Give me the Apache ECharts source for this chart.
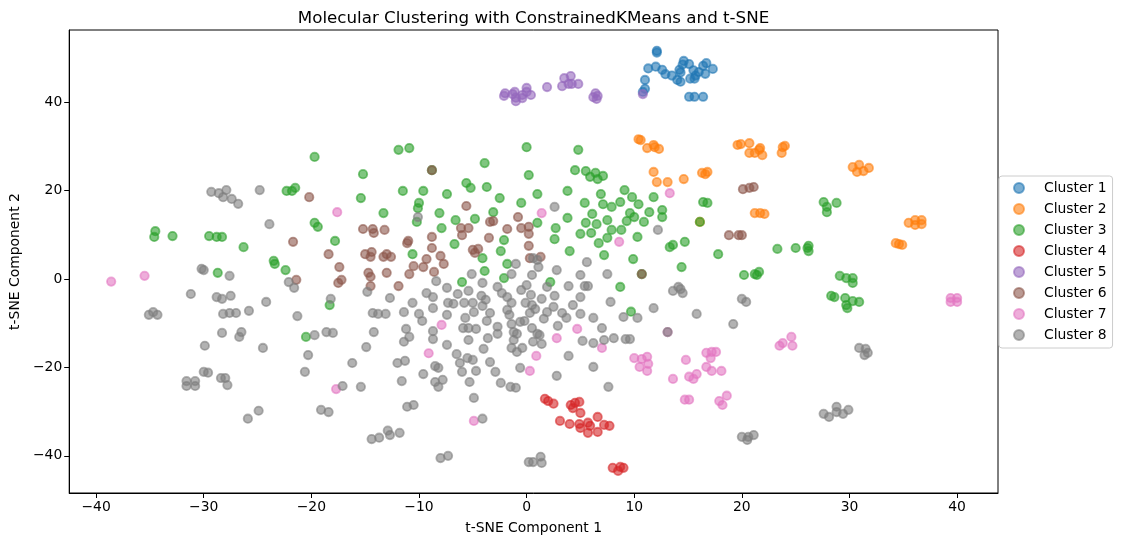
<!DOCTYPE html>
<html>
<head>
<meta charset="utf-8">
<script src="https://cdn.jsdelivr.net/npm/echarts@6/dist/echarts.min.js"></script>
<style>
html,body{margin:0;padding:0;background:#fff;}
#chart{width:1121px;height:545px;}
</style>
</head>
<body>
<div id="chart"></div>
<script>
const clusterNames = ['Cluster 1','Cluster 2','Cluster 3','Cluster 4','Cluster 5','Cluster 6','Cluster 7','Cluster 8'];
const clusterColors = ['31,119,180','255,127,14','44,160,44','214,39,40','148,103,189','140,86,75','227,119,194','127,127,127'];
const xTicks = [-40,-30,-20,-10,0,10,20,30,40];
const yTicks = [-40,-20,0,20,40];

const cluster1 = [[12.1,51.6],[12.1,51.2],[11.3,47.6],[12.0,48.0],[12.6,47.3],[12.9,46.3],[13.5,46.0],[14.2,47.3],[14.5,48.5],[14.6,49.3],[14.3,46.7],[15.1,48.6],[15.5,47.2],[15.7,46.0],[15.6,45.3],[16.0,46.8],[16.6,46.4],[17.3,47.5],[16.7,48.8],[16.4,48.2],[15.1,41.2],[15.6,41.2],[16.4,41.2],[11.0,45.0],[11.0,43.0],[10.8,42.3],[14.0,45.0],[14.3,44.6],[15.2,45.3]];

const cluster2 = [[10.4,31.6],[10.6,31.4],[11.2,29.6],[11.8,30.3],[11.9,29.8],[12.3,29.4],[11.8,24.2],[12.1,21.9],[13.1,21.9],[14.6,22.6],[16.3,24.0],[16.8,24.2],[16.6,23.7],[16.1,12.9],[19.6,30.3],[19.9,30.5],[20.7,30.7],[20.7,28.5],[21.2,28.5],[21.6,29.2],[21.9,28.0],[21.7,29.6],[24.0,30.1],[23.8,29.8],[23.7,28.5],[21.2,14.9],[21.7,14.9],[22.1,14.7],[30.3,25.3],[30.9,25.8],[30.7,24.2],[31.3,24.4],[31.8,25.1],[35.5,12.7],[36.1,13.3],[36.7,13.3],[36.1,12.2],[36.7,12.4],[34.3,8.1],[34.6,7.9],[34.9,7.7]];

const cluster3 = [[-34.5,10.8],[-34.6,9.5],[-32.9,9.7],[-29.5,9.7],[-28.8,9.5],[-28.3,9.5],[-26.3,7.2],[-28.7,1.4],[-23.5,4.1],[-23.4,3.4],[-22.4,2.0],[-22.3,19.9],[-21.8,19.9],[-21.5,20.6],
[-19.7,27.6],[-11.9,29.2],[-10.9,29.6],[-15.2,23.7],[-15.4,18.3],[-19.7,12.7],[-19.4,11.8],[-17.8,8.6],[-13.3,14.9],[-11.5,19.9],[-9.6,19.9],[-10.0,17.2],[-10.1,16.0],[-10.2,12.9],[-8.1,14.9],[-7.4,19.2],[-7.9,11.5],[-6.7,7.9],[-6.6,13.3],[-5.6,21.7],[-5.2,20.6],[-3.9,26.2],[-3.7,20.8],[-4.8,13.6],[-2.5,18.3],[-3.1,15.1],[-4.1,4.7],[-3.9,1.8],[-2.1,8.8],[-2.4,6.3],[-1.8,3.4],[-2.1,0.2],[-6.0,-0.7],[-10.6,5.6],[0.0,29.8],[0.2,23.5],[-0.5,17.2],[1.0,19.2],[1.0,12.7],[-18.3,-5.9],[-8.8,24.6],[-20.5,-13.1],
[4.8,29.2],[4.5,24.6],[5.5,24.4],[5.9,23.1],[6.4,24.0],[6.6,22.6],[7.1,23.3],[3.8,19.9],[6.9,19.2],[9.1,20.1],[9.8,18.5],[10.4,16.9],[11.8,18.5],[7.1,16.9],[7.9,16.3],[8.7,17.4],[5.4,17.2],[6.1,14.7],[3.8,13.8],[2.7,11.5],[2.6,9.0],[5.0,10.2],[5.5,12.7],[6.0,10.4],[6.5,12.4],[7.5,13.3],[7.9,11.1],[7.5,9.3],[6.7,8.1],[8.8,11.1],[9.3,13.1],[9.6,14.9],[10.0,14.0],[10.9,12.9],[11.4,15.1],[12.6,15.6],[12.6,14.0],[10.3,9.5],[7.2,5.4],[4.0,6.3],[9.9,4.5],[8.7,-1.8],[13.3,7.2],[13.6,7.7],[14.7,8.4],[14.4,2.7],[17.8,5.6],[16.4,17.4],[16.8,17.2],[20.2,0.9],[21.2,1.1],[21.6,1.6],[21.4,0.9],[2.2,-0.7],[10.7,1.1],[16.1,12.9],[9.7,-7.4],
[27.6,17.4],[27.9,16.3],[27.9,15.1],[28.8,17.2],[23.3,6.8],[25.0,7.0],[26.1,7.0],[26.2,7.5],[26.2,6.3],[29.1,0.7],[29.7,0.2],[30.3,0.2],[30.3,-0.9],[28.3,-3.8],[28.6,-4.1],[29.6,-4.3],[30.3,-5.0],[30.9,-5.2],[29.7,-5.9],[29.8,-6.6]];

const cluster4 = [[1.7,-27.1],[2.0,-27.6],[2.5,-28.2],[4.1,-28.5],[4.5,-28.0],[4.9,-27.8],[4.3,-29.2],[5.0,-30.3],[6.6,-31.2],[3.1,-32.1],[4.0,-32.8],[4.9,-32.8],[5.0,-33.7],[5.7,-32.5],[5.9,-33.2],[5.7,-34.8],[6.6,-34.6],[7.2,-33.0],[7.7,-33.2],[8.0,-42.7],[8.5,-43.4],[9.0,-42.7],[8.7,-42.5]];

const cluster5 = [[-2.1,41.4],[-2.0,42.0],[-1.3,41.8],[-1.1,42.3],[-1.0,40.2],[-0.4,40.9],[-0.4,41.6],[0.0,43.2],[0.0,42.3],[0.4,41.6],[-1.0,41.0],[1.9,43.4],[3.3,43.6],[3.5,45.4],[4.1,45.9],[4.2,44.1],[4.8,44.1],[3.9,44.1],[6.4,42.0],[6.2,41.1],[6.5,40.7],[6.6,41.4],[10.8,41.8]];

const cluster6 = [[-20.2,18.5],[-21.7,8.4],[-21.4,-0.2],[-18.4,5.6],[-17.4,2.7],[-17.5,-0.9],[-17.2,-0.2],[-15.2,11.3],[-14.3,11.3],[-14.2,10.4],[-13.2,11.1],[-15.0,5.6],[-14.5,5.0],[-14.4,6.1],[-14.7,1.4],[-14.5,0.5],[-14.5,-1.6],[-13.3,5.0],[-13.0,5.6],[-12.6,5.0],[-13.0,1.4],[-11.9,-1.6],[-11.1,8.1],[-11.0,8.6],[-10.5,2.9],[-10.9,1.1],[-9.6,2.7],[-9.3,4.5],[-8.6,1.6],[-7.7,3.4],[-8.0,5.2],[-8.8,7.0],[-8.8,9.5],[-5.6,16.5],[-6.1,11.5],[-5.4,11.5],[-6.0,9.9],[-5.0,6.6],[-4.5,6.8],[-4.8,5.9],[-3.4,12.9],[-3.1,13.1],[-3.5,9.3],[-0.8,14.0],[-1.8,11.3],[-0.5,11.5],[0.2,11.8],[0.2,10.2],[0.2,7.5],[0.3,4.7],[1.3,5.0],[-8.8,24.6],[20.1,20.3],[20.7,20.6],[21.1,20.8],[18.8,9.9],[19.7,9.9],[20.0,9.9],[10.7,1.1]];

const cluster7 = [[-38.6,-0.6],[-35.5,0.7],[-17.6,15.1],[-17.7,-24.9],[-7.9,-10.4],[-9.1,-16.8],[0.9,-17.4],[0.3,-20.8],[-4.9,-32.1],[1.4,14.9],[8.6,8.4],[13.3,19.4],[4.7,-11.3],[2.8,-13.4],[7.0,-15.6],[13.1,-12.0],[10.0,-17.9],[10.7,-18.1],[11.2,-17.6],[10.5,-19.9],[11.2,-20.8],[11.3,-19.2],[13.6,-22.6],[14.8,-18.3],[15.1,-22.1],[15.5,-22.6],[15.8,-21.5],[16.7,-16.7],[17.2,-16.5],[17.6,-16.5],[17.1,-17.9],[16.7,-19.9],[17.2,-20.8],[18.1,-20.8],[14.7,-27.3],[15.1,-27.3],[17.9,-27.6],[18.2,-28.5],[18.6,-26.4],[24.6,-13.1],[23.8,-14.5],[23.5,-15.1],[24.7,-15.1],[39.4,-4.3],[40.0,-4.3],[39.4,-5.2],[40.0,-5.2]];

const cluster8 = [[-29.3,19.7],[-28.6,19.4],[-28.2,18.5],[-27.9,20.1],[-27.4,18.1],[-26.8,17.0],[-24.8,20.1],[-23.9,12.4],[-30.2,2.3],[-30.0,2.0],[-27.6,0.7],[-31.2,-3.4],[-28.8,-4.1],[-28.3,-4.5],[-27.5,-3.8],[-24.2,-5.2],[-25.8,-7.2],[-22.1,-0.7],[-21.6,-2.0],[-21.3,-8.4],[-35.1,-8.1],[-34.7,-7.5],[-34.3,-8.1],[-28.2,-7.9],[-27.6,-7.7],[-27.0,-7.7],
[-28.3,-12.2],[-26.5,-12.0],[-26.7,-13.1],[-29.9,-15.1],[-24.5,-15.6],[-20.6,-21.0],[-20.3,-17.2],[-30.0,-21.0],[-29.6,-21.2],[-31.6,-23.1],[-30.8,-23.1],[-31.6,-24.2],[-30.8,-24.2],[-28.4,-22.4],[-28.0,-22.4],[-27.8,-24.0],[-24.9,-29.8],[-25.9,-31.6],
[-10.1,14.0],[-18.2,-4.5],[-14.8,-2.9],[-12.7,-4.3],[-10.6,-5.4],[-9.3,-3.2],[-8.7,-4.1],[-8.4,-0.5],[-7.4,-2.0],[-7.3,-5.4],[-6.8,-5.6],[-6.4,-3.4],[-5.8,-5.4],[-5.4,-2.7],[-5.1,1.1],[-5.0,-5.4],[-4.1,-0.9],[-4.2,-3.8],[-3.8,-4.7],[-2.7,-1.8],[-2.3,-3.2],[-1.8,-4.1],[-1.4,-5.4],[-1.4,1.1],[-1.0,3.4],[-0.5,-2.5],[0.0,-1.4],[0.4,-3.6],[0.5,0.9],[0.6,4.7],[1.0,4.3],[1.1,2.7],[0.5,-5.9],[-0.1,-5.4],
[-14.3,-7.7],[-13.8,-7.9],[-13.1,-7.9],[-11.4,-7.5],[-10.0,-7.9],[-9.7,-9.5],[-8.7,-6.6],[-7.4,-8.1],[-5.7,-8.8],[-4.9,-7.5],[-4.1,-6.1],[-3.7,-9.5],[-3.4,-7.7],[-5.9,-11.1],[-5.4,-11.1],[-4.7,-11.3],[-5.4,-13.8],[-4.0,-15.8],[-3.6,-13.4],[-2.7,-10.8],[-2.7,-12.4],[-1.8,-7.0],[-1.6,-8.1],[-1.4,-10.2],[-1.2,-12.0],[-0.9,-12.4],[-1.2,-13.8],[-0.6,-9.7],[-0.2,-9.5],[0.3,-7.7],[0.5,-11.1],[1.0,-12.4],[0.6,-14.2],[-1.4,-15.6],[-0.9,-16.5],[-0.4,-15.6],[-0.6,-20.1],[-3.4,-18.8],[-2.9,-21.0],[-2.4,-23.5],[-1.5,-24.4],[-1.0,-24.6],[-4.9,-26.9],[-4.1,-31.6],[-6.5,-17.0],[-6.2,-19.0],[-5.5,-17.9],[-5.0,-18.3],[-4.7,-20.8],[-6.0,-21.0],[-5.3,-23.3],[-7.4,-14.9],[-8.7,-13.6],[-8.7,-11.8],[-11.2,-11.3],[-10.9,-13.1],[-11.4,-14.2],[-12.0,-19.0],[-11.3,-18.5],[-9.6,-21.5],[-8.5,-19.7],[-8.2,-20.1],[-8.5,-23.3],[-8.2,-24.4],[-7.8,-22.8],[-11.6,-23.1],[-14.2,-12.0],[-14.9,-15.4],[-16.2,-19.0],[-15.4,-24.4],[-17.1,-24.2],[-18.6,-12.0],[-18.0,-12.2],[-19.7,-12.7],[-19.1,-29.6],[-18.4,-30.1],[-11.1,-28.9],[-10.5,-28.5],[-12.9,-34.3],[-12.7,-35.3],[-11.8,-34.8],[-14.4,-36.2],[-13.7,-35.9],[-8.0,-40.5],[-7.3,-40.0],[0.2,-41.4],[0.6,-41.4],[1.3,-40.2],[1.4,-41.6],
[2.6,16.3],[12.2,11.1],[5.6,3.8],[2.8,2.0],[7.5,1.1],[5.0,0.9],[3.9,-1.6],[5.4,-1.6],[5.7,-1.6],[5.0,-4.1],[7.8,-5.2],[2.6,-3.8],[1.4,-4.5],[1.9,-1.8],[4.3,-5.9],[13.6,-2.7],[14.1,-1.8],[14.5,-3.2],[14.3,-2.3],[20.0,-4.5],[20.4,-5.2],[11.8,-6.6],
[9.0,-8.6],[10.3,-8.8],[15.8,-7.9],[19.2,-10.2],[6.2,-8.8],[5.0,-7.9],[3.3,-7.7],[3.7,-8.8],[1.6,-9.0],[2.9,-10.6],[1.2,-12.7],[1.4,-14.7],[5.2,-14.0],[6.2,-14.5],[7.0,-11.1],[7.2,-13.8],[8.1,-13.4],[9.2,-13.6],[9.6,-13.6],[3.9,-17.4],[6.2,-19.9],[2.8,-21.9],[7.6,-24.4],[20.0,-35.7],[20.6,-35.7],[21.1,-35.3],[20.5,-36.4],[13.1,-12.0],[1.9,-7.5],[0.8,-6.8],[2.5,-6.3],
[30.9,-15.6],[31.5,-15.8],[31.4,-17.2],[31.7,-16.7],[27.6,-30.5],[28.1,-31.2],[28.8,-28.9],[28.8,-30.1],[29.4,-30.5],[29.9,-29.6]];

const clusterData = [cluster1, cluster2, cluster3, cluster4, cluster5, cluster6, cluster7, cluster8];

const FONT = 'DejaVu Sans';
const fmt = v => (v < 0 ? '\u2212' + Math.abs(v) : String(v));

const chart = echarts.init(document.getElementById('chart'), null, {renderer: 'canvas'});
chart.setOption({
  animation: false,
  backgroundColor: '#ffffff',
  textStyle: {fontFamily: FONT},
  title: {
    text: 'Molecular Clustering with ConstrainedKMeans and t-SNE',
    left: 528.5, top: 5, textAlign: 'center',
    textStyle: {fontFamily: FONT, fontSize: 16.7, fontWeight: 'normal', color: '#000'}
  },
  legend: {
    orient: 'vertical', left: 999, top: 176,
    padding: [5, 6, 6, 14],
    itemWidth: 10, itemHeight: 10, itemGap: 7,
    icon: 'circle',
    borderColor: '#cccccc', borderWidth: 1, borderRadius: 3,
    backgroundColor: 'rgba(255,255,255,0.8)',
    textStyle: {fontFamily: FONT, fontSize: 13.9, color: '#000', lineHeight: 14, padding: [0, 0, 0, 15]},
    data: clusterNames
  },
  grid: {left: 69, right: 123, top: 30, bottom: 52, containLabel: false, show: true, borderColor: '#000', borderWidth: 1},
  xAxis: {
    type: 'value', min: -42.5, max: 43.8,
    name: 't-SNE Component 1', nameLocation: 'middle', nameGap: 28,
    nameTextStyle: {fontFamily: FONT, fontSize: 13.9, color: '#000'},
    axisLine: {show: true, onZero: false, lineStyle: {color: '#000', width: 1}},
    axisTick: {show: true, length: 5, lineStyle: {color: '#000'}, customValues: xTicks},
    axisLabel: {show: true, margin: 7, fontFamily: FONT, fontSize: 13.9, color: '#000', customValues: xTicks, formatter: fmt},
    splitLine: {show: false}
  },
  yAxis: {
    type: 'value', min: -48.4, max: 56.3,
    name: 't-SNE Component 2', nameLocation: 'middle', nameGap: 45,
    nameTextStyle: {fontFamily: FONT, fontSize: 13.9, color: '#000'},
    axisLine: {show: true, onZero: false, lineStyle: {color: '#000', width: 1}},
    axisTick: {show: true, length: 5, lineStyle: {color: '#000'}, customValues: yTicks},
    axisLabel: {show: true, margin: 7, fontFamily: FONT, fontSize: 13.9, color: '#000', customValues: yTicks, formatter: fmt},
    splitLine: {show: false}
  },
  series: clusterNames.map((name, i) => ({
    name: name,
    type: 'scatter',
    data: clusterData[i],
    symbol: 'circle',
    symbolSize: 8.4,
    itemStyle: {
      color: 'rgba(' + clusterColors[i] + ',0.6)',
      borderColor: 'rgba(' + clusterColors[i] + ',0.6)',
      borderWidth: 1.8,
      opacity: 1
    },
    emphasis: {disabled: true},
    silent: true
  }))
});
</script>
</body>
</html>
